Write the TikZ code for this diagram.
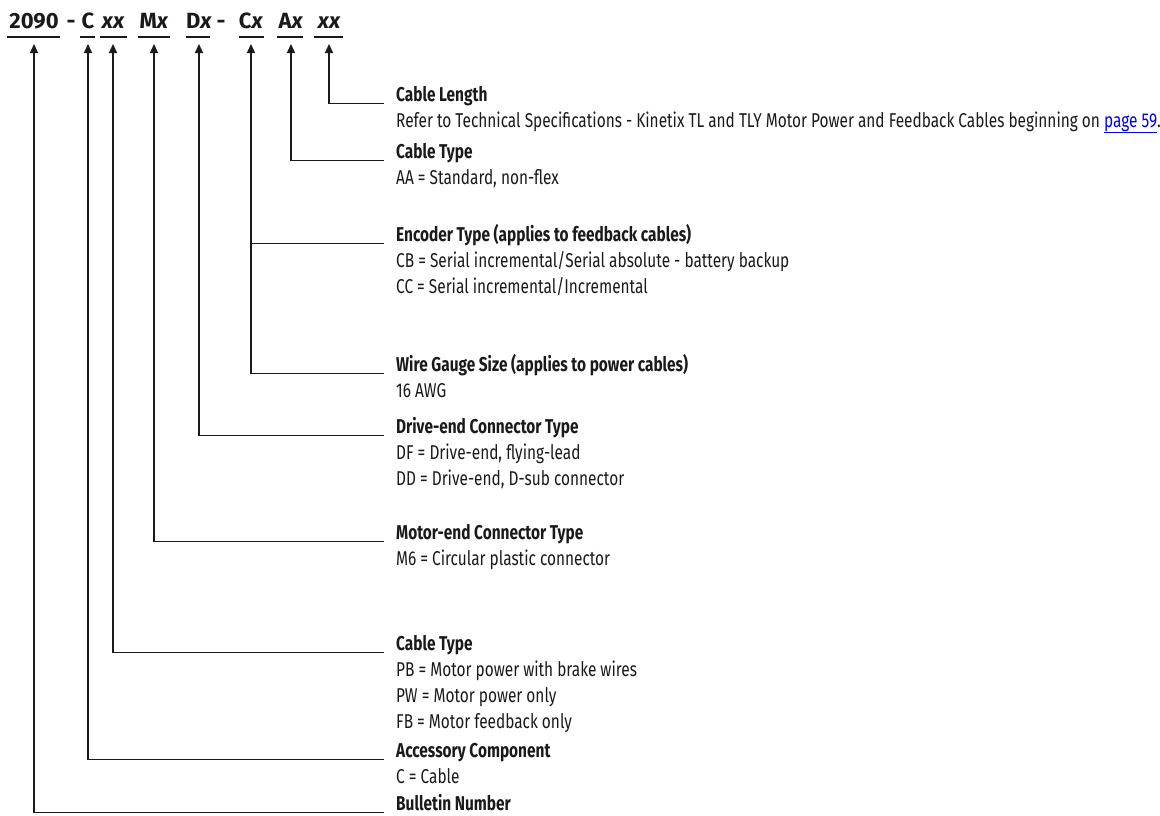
\documentclass[tikz,border=0pt]{standalone}
\usepackage{fontspec}
\setmainfont[FakeStretch=0.77]{Fira Sans}
\newfontfamily\hdrfont{Fira Sans}
\usetikzlibrary{arrows.meta}
\definecolor{ink}{HTML}{1A1A1A}
\definecolor{linkblue}{HTML}{0000EE}
\newcommand{\blocklines}[1]{\vtop{\baselineskip=26pt\halign{##\hfil\cr#1\crcr}}}
\begin{document}
\begin{tikzpicture}[x=1pt,y=-1pt,
  conn/.style={draw=ink, line width=1.4pt},
  ul/.style={draw=ink, line width=1.6pt},
  arr/.style={conn, -{Triangle[length=9pt,width=8pt]}, shorten >=16pt},
  hdr/.style={font=\hdrfont\fontsize{22}{22}\selectfont\bfseries, text=ink, inner sep=0pt, anchor=base},
  blk/.style={anchor=base west, inner sep=0pt, text=ink, font=\fontsize{20}{26}\selectfont},
]
\useasboundingbox (0,0) rectangle (1160,815);

% header
\node[hdr] (s2090) at (34,28) {2090};
\node[hdr] (d1) at (71,28) {-};
\node[hdr] (sC) at (88,28) {C};
\node[hdr] (sxx) at (113,28) {\itshape xx};
\node[hdr] (sM) at (154,28) {M\textit{x}};
\node[hdr] (sD) at (199,28) {D\textit{x}};
\node[hdr] (d2) at (221,28) {-};
\node[hdr] (sCx) at (251,28) {C\textit{x}};
\node[hdr] (sA) at (291,28) {A\textit{x}};
\node[hdr] (sxx2) at (329,28) {\itshape xx};

% underlines
\draw[ul] (7,37) -- (60,37);
\draw[ul] (80,37) -- (95,37);
\draw[ul] (100,37) -- (127,37);
\draw[ul] (138,37) -- (170,37);
\draw[ul] (186,37) -- (210,37);
\draw[ul] (239,37) -- (264,37);
\draw[ul] (277,37) -- (303,37);
\draw[ul] (314,37) -- (343,37);

% blocks
\node[blk] (bLen) at (396,101) {\blocklines{\textbf{Cable Length}\cr Refer to Technical Specifications - Kinetix TL and TLY Motor Power and Feedback Cables beginning on \textcolor{linkblue}{\underline{page 59}}.}};
\node[blk] (bAx) at (396,158) {\blocklines{\textbf{Cable Type}\cr AA = Standard, non-flex}};
\node[blk] (bEnc) at (396,241) {\blocklines{\textbf{Encoder Type (applies to feedback cables)}\cr CB = Serial incremental/Serial absolute - battery backup\cr CC = Serial incremental/Incremental}};
\node[blk] (bWire) at (396,371) {\blocklines{\textbf{Wire Gauge Size (applies to power cables)}\cr 16 AWG}};
\node[blk] (bDrv) at (396,433) {\blocklines{\textbf{Drive-end Connector Type}\cr DF = Drive-end, flying-lead\cr DD = Drive-end, D-sub connector}};
\node[blk] (bMot) at (396,539) {\blocklines{\textbf{Motor-end Connector Type}\cr M6 = Circular plastic connector}};
\node[blk] (bCT) at (396,650) {\blocklines{\textbf{Cable Type}\cr PB = Motor power with brake wires\cr PW = Motor power only\cr FB = Motor feedback only}};
\node[blk] (bAcc) at (396,757) {\blocklines{\textbf{Accessory Component}\cr C = Cable}};
\node[blk] (bBul) at (396,810) {\blocklines{\textbf{Bulletin Number}}};

% line ends
\foreach \b in {bLen,bAx,bEnc,bWire,bDrv,bMot,bCT,bAcc,bBul}
  \coordinate (e\b) at ([xshift=-12pt,yshift=-2.5pt]\b.base west);

% connectors
\draw[arr] (ebLen) -| (sxx2.base);
\draw[arr] (ebAx) -| (sA.base);
\draw[conn] (ebEnc) -- (ebEnc -| sCx.base);
\draw[arr] (ebWire) -| (sCx.base);
\draw[arr] (ebDrv) -| (sD.base);
\draw[arr] (ebMot) -| (sM.base);
\draw[arr] (ebCT) -| (sxx.base);
\draw[arr] (ebAcc) -| (sC.base);
\draw[arr] (ebBul) -| (s2090.base);
\end{tikzpicture}
\end{document}
